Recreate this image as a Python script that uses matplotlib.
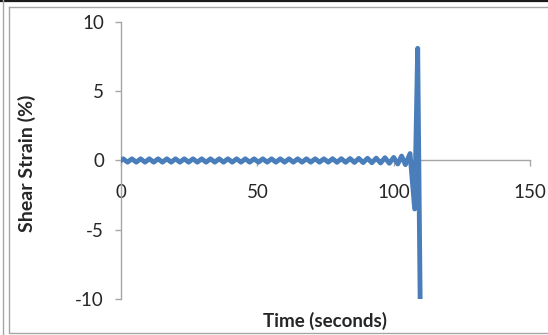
import matplotlib
matplotlib.use("Agg")
import matplotlib.pyplot as plt
from matplotlib.lines import Line2D

plt.rcParams.update({
    "font.family": ["Lato", "DejaVu Sans"],
    "axes.unicode_minus": False,
})

# --- data (turning points of the strain record) ---
time_s = [0.0, 0.8, 2.4, 4.0, 5.6, 7.2, 8.8, 10.4, 12.0, 13.6, 15.2, 16.8, 18.4,
          20.0, 21.6, 23.2, 24.8, 26.4, 28.0, 29.6, 31.2, 32.8, 34.4, 36.0, 37.6,
          39.2, 40.8, 42.4, 44.0, 45.6, 47.2, 48.8, 50.4, 52.0, 53.6, 55.2, 56.8,
          58.4, 60.0, 61.6, 63.2, 64.8, 66.4, 68.0, 69.6, 71.2, 72.8, 74.4, 76.0,
          77.6, 79.2, 80.8, 82.4, 84.0, 85.6, 87.2, 88.8, 90.4, 92.0, 93.6, 95.2,
          96.8, 98.4, 100.0, 101.5, 102.9, 104.3, 106.0, 107.7, 108.8, 109.8]
strain_pct = [0.0,
              0.12, -0.12, 0.12, -0.12, 0.12, -0.12, 0.12, -0.12, 0.12, -0.12,
              0.12, -0.12, 0.12, -0.12, 0.12, -0.12, 0.12, -0.12, 0.12, -0.12,
              0.12, -0.12, 0.12, -0.12, 0.12, -0.12, 0.12, -0.12, 0.12, -0.12,
              0.12, -0.12, 0.12, -0.12, 0.12, -0.12, 0.12, -0.12, 0.12, -0.12,
              0.12, -0.12, 0.12, -0.12, 0.12, -0.12, 0.12, -0.12, 0.13, -0.13,
              0.13, -0.13, 0.14, -0.14, 0.15, -0.15, 0.16, -0.16, 0.17, -0.18,
              0.2, -0.2, 0.22, -0.25, 0.32, -0.3, 0.5, -3.5, 8.1, -12.0]

x_ticks = [0, 50, 100, 150]
y_ticks = [-10, -5, 0, 5, 10]

axis_grey = "#a6a6a6"
text_col = "#262626"

fig = plt.figure(figsize=(5.48, 3.35), dpi=100)
ax = fig.add_axes([0.2208, 0.1075, 0.7464, 0.8268])

ax.plot(time_s, strain_pct, color="#4a7ebb", lw=3.5,
        solid_joinstyle="round", solid_capstyle="round", zorder=3)

ax.set_xlim(0, 150)
ax.set_ylim(-10, 10)
ax.set_xticks(x_ticks)
ax.set_yticks(y_ticks)

for s in ("top", "right"):
    ax.spines[s].set_visible(False)
ax.spines["bottom"].set_position(("data", 0))
for s in ("left", "bottom"):
    ax.spines[s].set_color(axis_grey)
    ax.spines[s].set_linewidth(1.0)

ax.tick_params(axis="x", direction="out", length=4, width=1.0, color=axis_grey,
               pad=13, labelsize=13.5, labelcolor=text_col)
ax.tick_params(axis="y", direction="out", length=4.3, width=1.0, color=axis_grey,
               pad=8, labelsize=13.5, labelcolor=text_col)

fig.text(0.593, 1 - 321 / 335, "Time (seconds)", ha="center", va="center",
         fontsize=13.5, fontweight="bold", color=text_col)
fig.text(0.05, 1 - 163 / 335, "Shear Strain (%)", rotation=90, ha="center",
         va="center", fontsize=14, fontweight="bold", color=text_col)

# chart frame like the spreadsheet export
W, H = 548, 335
fig.add_artist(Line2D([0, 1], [1 - 1 / H, 1 - 1 / H], color="#1a1a1a", lw=1.6,
                      transform=fig.transFigure))
fig.add_artist(Line2D([2.5 / W, 2.5 / W], [0, 1], color=axis_grey, lw=1.0,
                      transform=fig.transFigure))
fig.add_artist(Line2D([9 / W, 9 / W, 1], [1 - 7 / H, 1 - 333 / H, 1 - 333 / H],
                      color=axis_grey, lw=1.0, transform=fig.transFigure))
fig.add_artist(Line2D([9 / W, 1], [1 - 7 / H, 1 - 7 / H], color=axis_grey,
                      lw=1.0, transform=fig.transFigure))

fig.savefig("out.png", dpi=100)
